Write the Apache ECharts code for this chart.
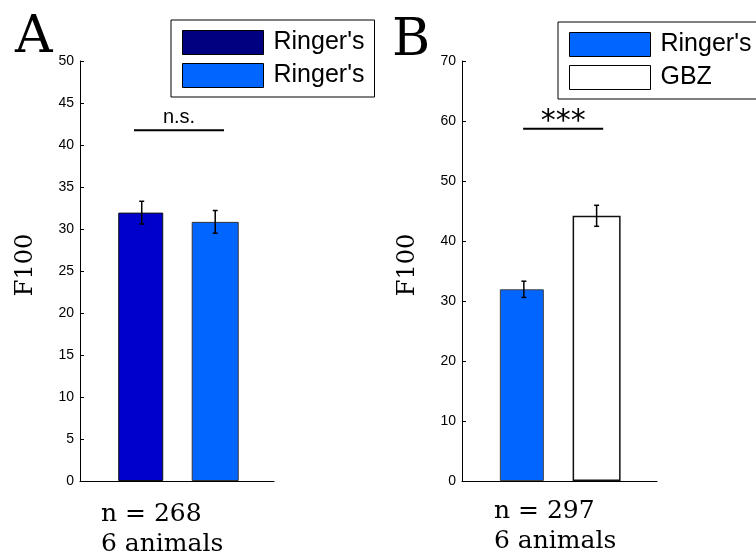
<!DOCTYPE html>
<html><head><meta charset="utf-8">
<script src="https://cdn.jsdelivr.net/npm/echarts@6/dist/echarts.min.js"></script>
<style>html,body{margin:0;padding:0;background:#fff}#c{width:756px;height:556px}</style>
</head><body><div id="c"></div>
<script>
// ---- data ----
const legendA = ["Ringer's", "Ringer's"];
const legendB = ["Ringer's", "GBZ"];
const barPos = [1, 2];
const meanA = [31.95, 30.85];
const semA = [1.35, 1.35];
const meanB = [31.95, 44.2];
const semB = [1.35, 1.75];
const ticksA = [0, 5, 10, 15, 20, 25, 30, 35, 40, 45, 50];
const ticksB = [0, 10, 20, 30, 40, 50, 60, 70];
const sigLabels = ['n.s.', '***'];
const sigFrom = [0.895, 0.99];
const sigTo = [2.12, 2.09];
const sigLevel = [41.75, 58.7];
const nTextA = 'n = 268\n6 animals';
const nTextB = 'n = 297\n6 animals';

const SANS = '"Liberation Sans", Arial, sans-serif';
const SERIF = '"DejaVu Serif", serif';
const nameMap = {A1: legendA[0], A2: legendA[1], B1: legendB[0], B2: legendB[1]};

function yAx(gi, ticks, nameGap) {
  return {
    type: 'value', gridIndex: gi, min: ticks[0], max: ticks[ticks.length - 1],
    interval: ticks[1] - ticks[0],
    name: 'F100', nameLocation: 'middle', nameGap: nameGap,
    nameTextStyle: {fontFamily: SERIF, fontSize: 24, color: '#000', padding: [0, 0, 0, 12]},
    axisLine: {show: true, onZero: false, lineStyle: {color: '#000', width: 1}},
    axisTick: {show: true, inside: true, length: 4, lineStyle: {color: '#000'}},
    axisLabel: {fontFamily: SANS, fontSize: 14, color: '#000', margin: 6},
    splitLine: {show: false}
  };
}
function xAx(gi, min, max) {
  return {
    type: 'value', gridIndex: gi, min: min, max: max,
    axisLine: {show: true, onZero: false, lineStyle: {color: '#000', width: 1.2}},
    axisTick: {show: false}, axisLabel: {show: false}, splitLine: {show: false}
  };
}
function barSeries(name, gi, x, v, color, border, bw, width) {
  return {
    name: name, type: 'bar', xAxisIndex: gi, yAxisIndex: gi,
    barWidth: width, barGap: '-100%',
    data: [[x, v]],
    itemStyle: {color: color, borderColor: border, borderWidth: bw},
    silent: true
  };
}
function errSeries(gi, means, sems) {
  return {
    type: 'custom', xAxisIndex: gi, yAxisIndex: gi, silent: true, z: 10,
    encode: {x: 0, y: [1, 2]},
    data: means.map((m, i) => [barPos[i], m - sems[i], m + sems[i]]),
    renderItem(params, api) {
      const x = api.value(0);
      const lo = api.coord([x, api.value(1)]);
      const hi = api.coord([x, api.value(2)]);
      const w = 2.5;
      const st = {stroke: '#000', lineWidth: 1.5};
      return {type: 'group', children: [
        {type: 'line', shape: {x1: lo[0], y1: lo[1], x2: hi[0], y2: hi[1]}, style: st},
        {type: 'line', shape: {x1: lo[0] - w, y1: lo[1], x2: lo[0] + w, y2: lo[1]}, style: st},
        {type: 'line', shape: {x1: hi[0] - w, y1: hi[1], x2: hi[0] + w, y2: hi[1]}, style: st}
      ]};
    }
  };
}
function sigSeries(gi, k, font, size, dy) {
  return {
    type: 'custom', xAxisIndex: gi, yAxisIndex: gi, silent: true, z: 10,
    encode: {x: [0, 1], y: 2},
    data: [[sigFrom[k], sigTo[k], sigLevel[k]]],
    renderItem(params, api) {
      const a = api.coord([api.value(0), api.value(2)]);
      const b = api.coord([api.value(1), api.value(2)]);
      return {type: 'group', children: [
        {type: 'line', shape: {x1: a[0], y1: a[1], x2: b[0], y2: b[1]}, style: {stroke: '#000', lineWidth: 2}},
        {type: 'text', x: (a[0] + b[0]) / 2, y: a[1] + dy,
         style: {text: sigLabels[k], fontFamily: font, fontSize: size, fill: '#000', align: 'center', verticalAlign: 'bottom'}}
      ]};
    }
  };
}
function legendComp(left, top, names, colorOverride) {
  return {
    left: left, top: top, orient: 'vertical', icon: 'rect',
    itemWidth: 81, itemHeight: 24, itemGap: 8,
    padding: [10, 6, 9, 11],
    borderColor: '#000', borderWidth: 1, backgroundColor: '#fff',
    selectedMode: false,
    itemStyle: {borderColor: '#000', borderWidth: 1},
    textStyle: {fontFamily: SANS, fontSize: 25, color: '#000', lineHeight: 24, width: 95, padding: [0, 0, 0, 5]},
    formatter: n => nameMap[n],
    data: names.map(n => colorOverride[n] ? {name: n, itemStyle: {color: colorOverride[n]}} : {name: n})
  };
}

const chart = echarts.init(document.getElementById('c'), null, {renderer: 'canvas'});
chart.setOption({
  animation: false,
  backgroundColor: '#fff',
  grid: [
    {left: 80, top: 61, width: 194, height: 420},
    {left: 462, top: 61, width: 195, height: 420}
  ],
  xAxis: [xAx(0, 0.16, 2.8), xAx(1, 0.15, 2.83)],
  yAxis: [yAx(0, ticksA, 42), yAx(1, ticksB, 42)],
  legend: [
    legendComp(171, 20, ['A1', 'A2'], {A1: '#000080'}),
    legendComp(558, 22, ['B1', 'B2'], {})
  ],
  graphic: [
    {type: 'text', x: 15, y: 38, style: {text: 'A', fontFamily: SERIF, fontSize: 52, fill: '#000', verticalAlign: 'middle'}},
    {type: 'text', x: 392, y: 41, style: {text: 'B', fontFamily: SERIF, fontSize: 52, fill: '#000', verticalAlign: 'middle'}},
    {type: 'text', x: 101, y: 499, style: {text: nTextA, fontFamily: SERIF, fontSize: 25, lineHeight: 30, fill: '#000', verticalAlign: 'top'}},
    {type: 'text', x: 494, y: 496, style: {text: nTextB, fontFamily: SERIF, fontSize: 25, lineHeight: 30, fill: '#000', verticalAlign: 'top'}}
  ],
  series: [
    barSeries('A1', 0, barPos[0], meanA[0], '#0000CC', '#111', 1, 45),
    barSeries('A2', 0, barPos[1], meanA[1], '#0066FF', '#333', 1, 47),
    barSeries('B1', 1, barPos[0], meanB[0], '#0066FF', '#444', 1, 44),
    barSeries('B2', 1, barPos[1], meanB[1], '#FFFFFF', '#111', 1.5, 48),
    errSeries(0, meanA, semA),
    errSeries(1, meanB, semB),
    sigSeries(0, 0, SANS, 20, -3),
    sigSeries(1, 1, '"DejaVu Sans", sans-serif', 30, 8)
  ]
});
</script>
</body></html>
